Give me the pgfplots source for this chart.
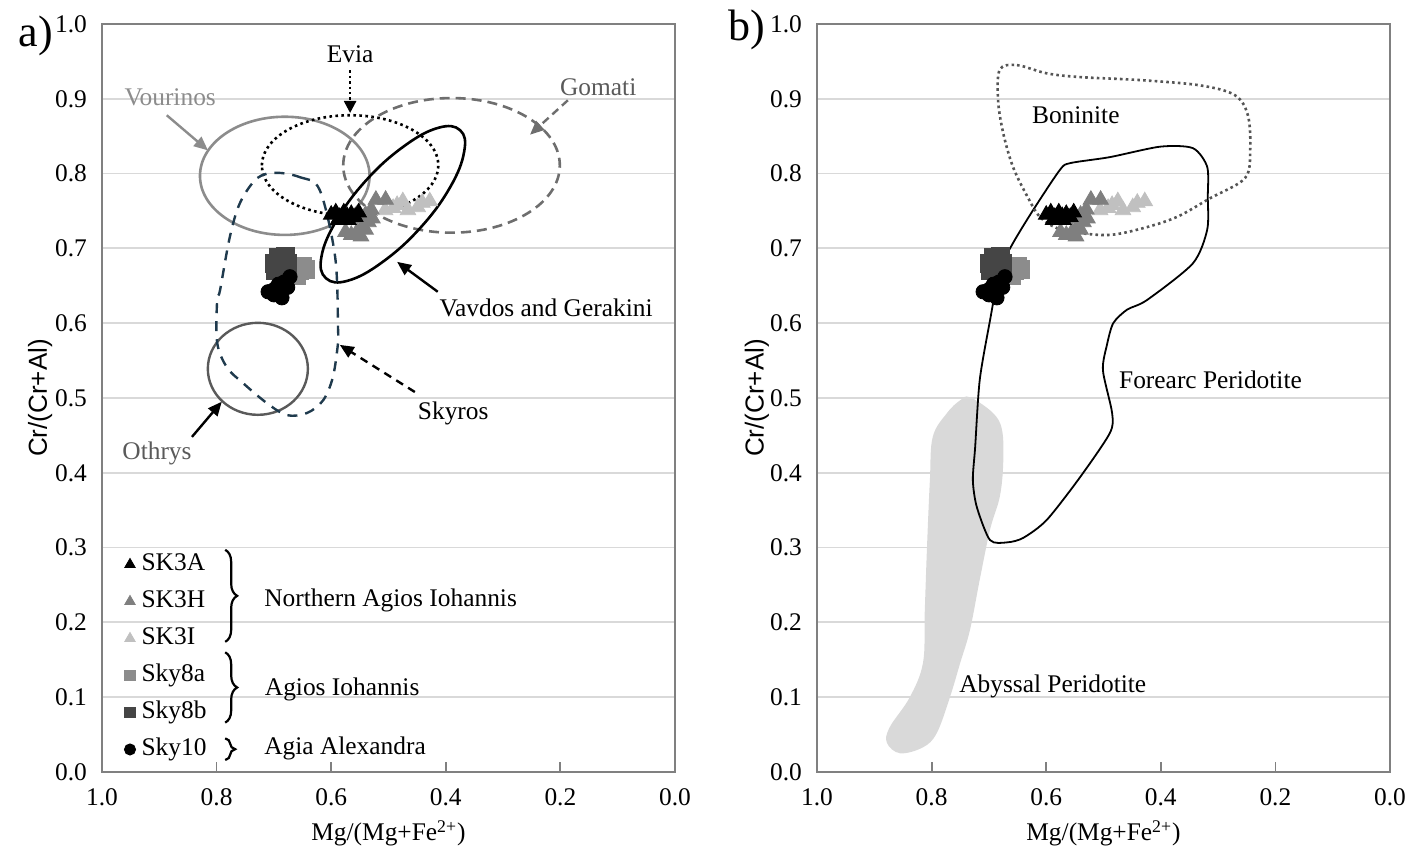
\documentclass[border=0pt]{standalone}
\usepackage{pgfplots}
\pgfplotsset{compat=1.18}
\usepackage{fontspec}
\setmainfont{Liberation Serif}
\newfontfamily\sansf{Liberation Sans}
\usetikzlibrary{arrows.meta,decorations.pathreplacing}
\definecolor{gridc}{HTML}{D9D9D9}
\definecolor{framec}{HTML}{808080}
\definecolor{vourc}{HTML}{8C8C8C}
\definecolor{dgray}{HTML}{5A5A5A}
\definecolor{gomc}{HTML}{6E6E6E}
\definecolor{skyc}{HTML}{1F3A4D}
\definecolor{cSKH}{HTML}{7F7F7F}
\definecolor{cSKI}{HTML}{C0C0C0}
\definecolor{cSa}{HTML}{8C8C8C}
\definecolor{cSb}{HTML}{454545}
\definecolor{abyc}{HTML}{D9D9D9}
\definecolor{bonc}{HTML}{555555}

\pgfplotsset{
  chartaxis/.style={
    scale only axis, width=286.5pt, height=374pt,
    xmin=0, xmax=1, ymin=0, ymax=1, x dir=reverse,
    xtick={0,0.2,0.4,0.6,0.8,1},
    ytick={0,0.1,0.2,0.3,0.4,0.5,0.6,0.7,0.8,0.9,1},
    /pgf/number format/fixed, /pgf/number format/fixed zerofill,
    /pgf/number format/precision=1, /pgf/number format/assume math mode=true,
    ymajorgrids, major grid style={gridc, line width=0.9pt},
    axis line style={framec, line width=0.9pt},
    xtick pos=bottom, ytick pos=left, tick align=inside,
    major tick length=5pt,
    xtick style={framec, line width=0.9pt},
    ytick style={draw=none},
    xticklabel style={yshift=-5pt},
    yticklabel style={xshift=-4pt},
    xlabel={Mg/(Mg+Fe\textsuperscript{2+})},
    ylabel={{\sansf\fontsize{13}{15}\selectfont Cr/(Cr+Al)}},
    every axis x label/.style={at={(axis description cs:0.5,-0.082)}, anchor=center},
    every axis y label/.style={at={(axis description cs:-0.108,0.5)}, anchor=center, rotate=90},
    clip=false,
  },
  sk3a/.style={only marks, forget plot, mark=triangle*, mark size=4.5pt, color=black},
  sk3h/.style={only marks, forget plot, mark=triangle*, mark size=4.5pt, color=cSKH},
  sk3i/.style={only marks, forget plot, mark=triangle*, mark size=4.5pt, color=cSKI},
  sky8a/.style={only marks, forget plot, mark=square*, mark size=4.3pt, color=cSa},
  sky8b/.style={only marks, forget plot, mark=square*, mark size=4.3pt, color=cSb},
  sky10/.style={only marks, forget plot, mark=*, mark size=3.6pt, color=black},
}

\pgfplotstableread{
x y
0.600 0.745
0.592 0.748
0.585 0.742
0.578 0.748
0.572 0.743
0.565 0.746
0.558 0.742
0.552 0.748
0.588 0.738
0.570 0.738
}\SKthreeA
\pgfplotstableread{
x y
0.575 0.722
0.565 0.718
0.555 0.722
0.548 0.716
0.540 0.725
0.535 0.735
0.540 0.745
0.530 0.752
0.522 0.765
0.505 0.765
0.545 0.730
0.528 0.740
0.550 0.740
}\SKthreeH
\pgfplotstableread{
x y
0.506 0.751
0.492 0.754
0.475 0.763
0.466 0.751
0.449 0.755
0.441 0.761
0.428 0.763
0.485 0.758
}\SKthreeI
\pgfplotstableread{
x y
0.665 0.676
0.655 0.670
0.645 0.672
0.660 0.664
0.650 0.676
}\SkyEightA
\pgfplotstableread{
x y
0.700 0.680
0.692 0.688
0.685 0.676
0.680 0.690
0.675 0.680
0.698 0.670
0.688 0.668
}\SkyEightB
\pgfplotstableread{
x y
0.710 0.642
0.698 0.646
0.692 0.652
0.682 0.655
0.672 0.662
0.686 0.634
0.700 0.638
0.676 0.648
}\SkyTen

\begin{document}
\begin{tikzpicture}[font=\fontsize{12.7}{15}\selectfont]
\useasboundingbox (0,0) rectangle (712pt,425pt);

% ---------------- panel a ----------------
\begin{axis}[chartaxis, at={(51pt,39pt)}, anchor=south west,
  legend style={at={(axis description cs:0.0384,0.294)}, anchor=north west,
    draw=none, fill=none, inner sep=0pt, row sep=6.5pt, column sep=3pt,
    nodes={inner sep=0pt, text height=9pt, text depth=3pt}},
  legend cell align=left,
  legend image code/.code={\draw[#1] plot coordinates {(0pt,0pt)};},
]
% regions
\draw[vourc, line width=1.3pt] (axis cs:0.681,0.797) ellipse [x radius=0.148, y radius=0.079];
\draw[black, line width=1.3pt, dash pattern=on 1.3pt off 1.7pt] (axis cs:0.567,0.811) ellipse [x radius=0.154, y radius=0.067];
\draw[gomc, line width=1.3pt, dash pattern=on 5pt off 3pt] (axis cs:0.390,0.811) ellipse [x radius=0.189, y radius=0.090];
\draw[dgray, line width=1.2pt] (axis cs:0.728,0.539) ellipse [x radius=0.0873, y radius=0.0615];
\draw[black, line width=1.3pt] plot[smooth cycle, tension=0.7] coordinates {
 (axis cs:0.375,0.858) (axis cs:0.414,0.861) (axis cs:0.474,0.836) (axis cs:0.539,0.791)
 (axis cs:0.591,0.737) (axis cs:0.617,0.689) (axis cs:0.609,0.660) (axis cs:0.570,0.657)
 (axis cs:0.510,0.682) (axis cs:0.445,0.727) (axis cs:0.393,0.781) (axis cs:0.368,0.829)};
\draw[skyc, line width=1.2pt, dash pattern=on 5pt off 4pt] plot[smooth cycle, tension=0.55] coordinates {
 (axis cs:0.695,0.801) (axis cs:0.654,0.795) (axis cs:0.620,0.778) (axis cs:0.593,0.688)
 (axis cs:0.588,0.591) (axis cs:0.588,0.574) (axis cs:0.597,0.528) (axis cs:0.614,0.497)
 (axis cs:0.642,0.480) (axis cs:0.677,0.477) (axis cs:0.712,0.493) (axis cs:0.754,0.520)
 (axis cs:0.782,0.541) (axis cs:0.799,0.574) (axis cs:0.799,0.631) (axis cs:0.794,0.644)
 (axis cs:0.777,0.715) (axis cs:0.759,0.761) (axis cs:0.729,0.794)};
% data
\addplot[sky8a] table {\SkyEightA};
\addplot[sky8b] table {\SkyEightB};
\addplot[sky10] table {\SkyTen};
\addplot[sk3i] table {\SKthreeI};
\addplot[sk3h] table {\SKthreeH};
\addplot[sk3a] table {\SKthreeA};
% legend images
\addlegendimage{mark=triangle*, mark size=3pt, color=black}
\addlegendimage{mark=triangle*, mark size=3pt, color=cSKH}
\addlegendimage{mark=triangle*, mark size=3pt, color=cSKI}
\addlegendimage{mark=square*, mark size=2.6pt, color=cSa}
\addlegendimage{mark=square*, mark size=2.6pt, color=cSb}
\addlegendimage{mark=*, mark size=2.8pt, color=black}
\legend{SK3A,SK3H,SK3I,Sky8a,Sky8b,Sky10}
% labels and arrows
\node at (axis cs:0.567,0.959) {Evia};
\draw[black, line width=1.2pt, dash pattern=on 1.2pt off 1.5pt, -{Triangle[length=6pt,width=6pt]}] (axis cs:0.567,0.938) -- (axis cs:0.567,0.881);
\node[vourc] at (axis cs:0.881,0.902) {Vourinos};
\draw[vourc, line width=1.2pt, -{Triangle[length=7pt,width=6pt]}] (axis cs:0.887,0.878) -- (axis cs:0.815,0.831);
\node[dgray] at (axis cs:0.134,0.916) {Gomati};
\draw[gomc, line width=1.2pt, dash pattern=on 4pt off 2.5pt, -{Triangle[length=7pt,width=6pt]}] (axis cs:0.187,0.898) -- (axis cs:0.253,0.852);
\node at (axis cs:0.225,0.620) {Vavdos and Gerakini};
\draw[black, line width=1.2pt, -{Triangle[length=7pt,width=6pt]}] (axis cs:0.414,0.642) -- (axis cs:0.485,0.682);
\node at (axis cs:0.387,0.480) {Skyros};
\draw[black, line width=1.2pt, dash pattern=on 4pt off 3pt, -{Triangle[length=7pt,width=6pt]}] (axis cs:0.454,0.508) -- (axis cs:0.585,0.571);
\node[dgray] at (axis cs:0.904,0.426) {Othrys};
\draw[black, line width=1.2pt, -{Triangle[length=7pt,width=6pt]}] (axis cs:0.843,0.448) -- (axis cs:0.791,0.495);
% braces and group names
\draw[decorate, decoration={brace, amplitude=6pt}, line width=1.1pt] (axis cs:0.785,0.297) -- (axis cs:0.785,0.174);
\draw[decorate, decoration={brace, amplitude=6pt}, line width=1.1pt] (axis cs:0.785,0.160) -- (axis cs:0.785,0.066);
\draw[decorate, decoration={brace, amplitude=5pt}, line width=1.1pt] (axis cs:0.785,0.045) -- (axis cs:0.785,0.016);
\node[anchor=west] at (axis cs:0.729,0.230) {Northern Agios Iohannis};
\node[anchor=west] at (axis cs:0.728,0.110) {Agios Iohannis};
\node[anchor=west] at (axis cs:0.729,0.032) {Agia Alexandra};
\end{axis}

% ---------------- panel b ----------------
\begin{axis}[chartaxis, at={(408.5pt,39pt)}, anchor=south west,
  every axis y label/.style={at={(axis description cs:-0.105,0.5)}, anchor=center, rotate=90}]
\fill[abyc] plot[smooth cycle, tension=0.6] coordinates {
 (axis cs:0.733,0.501) (axis cs:0.693,0.480) (axis cs:0.677,0.457) (axis cs:0.675,0.413)
 (axis cs:0.681,0.368) (axis cs:0.698,0.324) (axis cs:0.716,0.257) (axis cs:0.733,0.190)
 (axis cs:0.750,0.146) (axis cs:0.768,0.100) (axis cs:0.791,0.052) (axis cs:0.815,0.033)
 (axis cs:0.855,0.025) (axis cs:0.878,0.039) (axis cs:0.873,0.060) (axis cs:0.838,0.100)
 (axis cs:0.815,0.146) (axis cs:0.812,0.213) (axis cs:0.808,0.301) (axis cs:0.803,0.390)
 (axis cs:0.798,0.448) (axis cs:0.773,0.480) (axis cs:0.750,0.497)};
\draw[black, line width=0.9pt] plot[smooth cycle, tension=0.45] coordinates {
 (axis cs:0.658,0.707) (axis cs:0.681,0.671) (axis cs:0.698,0.604) (axis cs:0.716,0.524)
 (axis cs:0.724,0.434) (axis cs:0.728,0.390) (axis cs:0.721,0.354) (axis cs:0.698,0.310)
 (axis cs:0.668,0.307) (axis cs:0.640,0.313) (axis cs:0.599,0.337) (axis cs:0.541,0.394)
 (axis cs:0.489,0.453) (axis cs:0.485,0.480) (axis cs:0.501,0.537) (axis cs:0.494,0.571)
 (axis cs:0.483,0.600) (axis cs:0.459,0.618) (axis cs:0.424,0.631) (axis cs:0.344,0.680)
 (axis cs:0.319,0.725) (axis cs:0.318,0.769) (axis cs:0.319,0.809) (axis cs:0.344,0.834)
 (axis cs:0.401,0.836) (axis cs:0.489,0.822) (axis cs:0.558,0.814) (axis cs:0.576,0.805)
 (axis cs:0.623,0.751)};
\draw[bonc, line width=1.3pt, dash pattern=on 1.3pt off 1.6pt] plot[smooth cycle, tension=0.55] coordinates {
 (axis cs:0.681,0.939) (axis cs:0.651,0.945) (axis cs:0.599,0.934) (axis cs:0.541,0.929)
 (axis cs:0.436,0.925) (axis cs:0.332,0.918) (axis cs:0.271,0.905) (axis cs:0.248,0.878)
 (axis cs:0.244,0.832) (axis cs:0.253,0.794) (axis cs:0.314,0.767) (axis cs:0.372,0.742)
 (axis cs:0.431,0.727) (axis cs:0.489,0.718) (axis cs:0.546,0.721) (axis cs:0.581,0.727)
 (axis cs:0.611,0.742) (axis cs:0.634,0.771) (axis cs:0.658,0.809) (axis cs:0.675,0.854)
 (axis cs:0.684,0.898)};
\addplot[sky8a] table {\SkyEightA};
\addplot[sky8b] table {\SkyEightB};
\addplot[sky10] table {\SkyTen};
\addplot[sk3i] table {\SKthreeI};
\addplot[sk3h] table {\SKthreeH};
\addplot[sk3a] table {\SKthreeA};
\node[anchor=west] at (axis cs:0.637,0.878) {Boninite};
\node[anchor=west] at (axis cs:0.485,0.524) {Forearc Peridotite};
\node[anchor=west] at (axis cs:0.764,0.114) {Abyssal Peridotite};
\end{axis}

\node[font=\fontsize{22}{24}\selectfont] at (18pt,407pt) {a)};
\node[font=\fontsize{22}{24}\selectfont] at (373.5pt,410pt) {b)};
\end{tikzpicture}
\end{document}
